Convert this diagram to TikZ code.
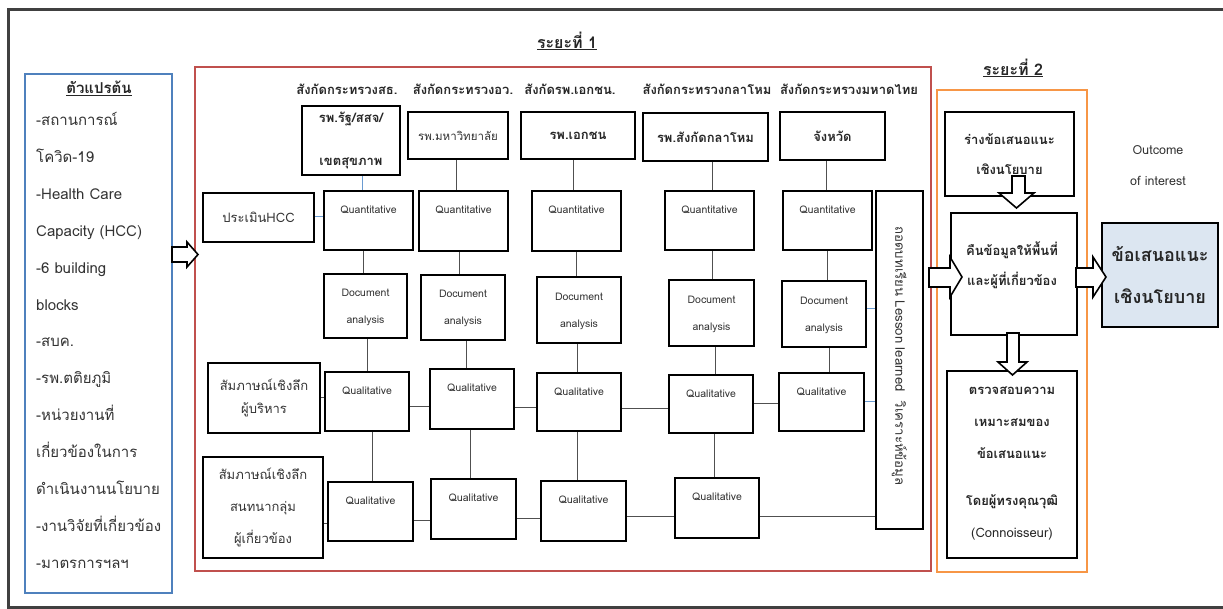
\documentclass[tikz,border=0pt]{standalone}
\usepackage{fontspec}
\setmainfont{Loma}[Script=Thai]
\usetikzlibrary{fit,backgrounds}
\definecolor{framec}{HTML}{404040}
\definecolor{bluefr}{HTML}{4F81BD}
\definecolor{redfr}{HTML}{C0504D}
\definecolor{orfr}{HTML}{F79646}
\definecolor{lnblue}{HTML}{6A9BD1}
\definecolor{lngray}{HTML}{505050}
\definecolor{outfill}{HTML}{DCE6F1}
\definecolor{txt}{HTML}{333333}
\begin{document}
\begin{tikzpicture}[x=1pt,y=-1pt,
  bx/.style={draw=black,line width=2.8pt,fill=white,inner sep=0pt},
  ln/.style={draw=lngray,line width=0.9pt},
  bl/.style={draw=lnblue,line width=1pt},
  lbl/.style={text=txt,inner sep=0pt,align=center,font=\fontsize{10.5}{27}\selectfont},
  thb/.style={text=black!85,inner sep=0pt,align=center,font=\fontsize{13}{30}\selectfont\bfseries},
  thr/.style={text=txt,inner sep=0pt,align=center,font=\fontsize{13}{23}\selectfont},
  hdr/.style={text=black!85,inner sep=0pt,font=\fontsize{13}{16}\selectfont\bfseries},
  lft/.style={text=txt,inner sep=0pt,anchor=west,text height=11pt,text depth=4pt,font=\fontsize{15}{18}\selectfont},
  harrow/.style={draw=black,line width=1.6pt,fill=white,line join=miter}]
\clip (0,0) rectangle (1223,608);

% ---------- titles ----------
\node[hdr,font=\fontsize{16}{18}\selectfont\bfseries] (ph1) at (567,41) {\underline{ระยะที่ 1}};
\node[hdr,font=\fontsize{16}{18}\selectfont\bfseries] (ph2) at (1013,68) {\underline{ระยะที่ 2}};
\node[hdr,font=\fontsize{15}{18}\selectfont\bfseries] (vt) at (99,88) {\underline{ตัวแปรต้น}};

% ---------- left column ----------
\foreach \t [count=\i from 0] in {-สถานการณ์,โควิด-19,-Health Care,Capacity (HCC),-6 building,blocks,-สบค.,-รพ.ตติยภูมิ,-หน่วยงานที่,เกี่ยวข้องในการ,ดำเนินงานนโยบาย,-งานวิจัยที่เกี่ยวข้อง,-มาตรการฯลฯ}
  \node[lft] (lv\i) at (36,{122+36.9*\i}) {\t};

% ---------- headers ----------
\node[hdr] (g1) at (347,89) {สังกัดกระทรวงสธ.};
\node[hdr] (g2) at (463,89) {สังกัดกระทรวงอว.};
\node[hdr] (g3) at (570,89) {สังกัดรพ.เอกชน.};
\node[hdr] (g4) at (707,89) {สังกัดกระทรวงกลาโหม};
\node[hdr] (g5) at (849,89) {สังกัดกระทรวงมหาดไทย};

% ---------- hospital row ----------
\node[bx,fit={(302,106)(400,175)}] (H1) {};
\node[bx,fit={(408,112)(508,159)}] (H2) {};
\node[bx,fit={(521,112)(635,159)}] (H3) {};
\node[bx,fit={(643,113)(768,161)}] (H4) {};
\node[bx,fit={(780,112)(885,160)}] (H5) {};
\node[thb,font=\fontsize{13}{43}\selectfont\bfseries] (tH1) at (H1.center) {รพ.รัฐ/สสจ/\\เขตสุขภาพ};
\node[thr,font=\fontsize{11.5}{14}\selectfont] (tH2) at (H2.center) {รพ.มหาวิทยาลัย};
\node[thb] (tH3) at (H3.center) {รพ.เอกชน};
\node[thb] (tH4) at (H4.center) {รพ.สังกัดกลาโหม};
\node[thb] (tH5) at (H5.center) {จังหวัด};

% ---------- quantitative row ----------
\node[bx,fit={(203,193)(314,242)}] (HCC) {};
\node[thr] (tHCC) at (HCC.center) {ประเมินHCC};
\node[bx,fit={(324,191)(413,250)}] (Q1) {};
\node[bx,fit={(419,191)(508,251)}] (Q2) {};
\node[bx,fit={(532,191)(621,251)}] (Q3) {};
\node[bx,fit={(665,191)(754,250)}] (Q4) {};
\node[bx,fit={(783,191)(872,250)}] (Q5) {};
\foreach \n in {Q1,Q2,Q3,Q4,Q5}
  \node[lbl] (t\n) at ([yshift=-20pt]\n.north) {Quantitative};

% ---------- document analysis row ----------
\node[bx,fit={(324,274)(407,338)}] (D1) {};
\node[bx,fit={(421,275)(505,340)}] (D2) {};
\node[bx,fit={(537,277)(621,343)}] (D3) {};
\node[bx,fit={(669,280)(754,346)}] (D4) {};
\node[bx,fit={(782,281)(866,347)}] (D5) {};
\foreach \n in {D1,D2,D3,D4,D5}
  \node[lbl] (t\n) at ([yshift=-1pt]\n.center) {Document\\analysis};

% ---------- qualitative rows ----------
\node[bx,fit={(208,363)(320,433)}] (S1) {};
\node[thr] (tS1) at (S1.center) {สัมภาษณ์เชิงลึก\\ผู้บริหาร};
\node[bx,fit={(325,372)(409,431)}] (QL1) {};
\node[bx,fit={(430,369)(514,429)}] (QL2) {};
\node[bx,fit={(537,373)(621,431)}] (QL3) {};
\node[bx,fit={(669,375)(753,433)}] (QL4) {};
\node[bx,fit={(779,373)(864,431)}] (QL5) {};
\node[bx,fit={(203,457)(323,558)}] (S2) {};
\node[thr,font=\fontsize{13}{32}\selectfont] (tS2) at (S2.center) {สัมภาษณ์เชิงลึก\\สนทนากลุ่ม\\ผู้เกี่ยวข้อง};
\node[bx,fit={(328,482)(413,541)}] (QM1) {};
\node[bx,fit={(431,479)(516,539)}] (QM2) {};
\node[bx,fit={(541,481)(626,541)}] (QM3) {};
\node[bx,fit={(675,478)(759,538)}] (QM4) {};
\foreach \n in {QL1,QL2,QL3,QL4,QL5,QM1,QM2,QM3,QM4}
  \node[lbl] (t\n) at ([yshift=-20pt]\n.north) {Qualitative};

% ---------- lesson learned box ----------
\node[bx,fit={(876,191)(923,529)}] (LL) {};
\node[thr,font=\fontsize{13.2}{16}\selectfont,rotate=-90] (tLL) at (899.5,356) {ถอดบทเรียน Lesson learned\ \ วิเคราะห์ข้อมูล};

% ---------- phase 2 ----------
\node[bx,fit={(945,112)(1074,196)}] (R1) {};
\node[thb] (tR1) at (R1.center) {ร่างข้อเสนอแนะ\\เชิงนโยบาย};
\node[bx,fit={(951,213)(1077,335)}] (R2) {};
\node[thb] (tR2) at (1012,265) {คืนข้อมูลให้พื้นที่\\และผู้ที่เกี่ยวข้อง};
\node[bx,fit={(947,371)(1077,558)}] (R3) {};
\node[thb,font=\fontsize{13}{32}\selectfont\bfseries] (tR3) at (1012,464) {ตรวจสอบความ\\เหมาะสมของ\\ข้อเสนอแนะ\\[15pt]โดยผู้ทรงคุณวุฒิ\\{\mdseries (Connoisseur)}};
\node[bx,fill=outfill,fit={(1102,223)(1218,327)}] (OUT) {};
\node[thb,font=\fontsize{18}{42}\selectfont\bfseries] (tOUT) at (OUT.center) {ข้อเสนอแนะ\\เชิงนโยบาย};
\node[thr,font=\fontsize{12.5}{31}\selectfont] (oc) at (1158,165.5) {Outcome\\of interest};

% ---------- hollow arrows ----------
\draw[harrow] (172,247)--(187,247)--(187,242)--(198,254.5)--(187,267)--(187,262)--(172,262)--cycle;
\draw[harrow] (929,268)--(950,268)--(950,257)--(962,277)--(950,297)--(950,287)--(929,287)--cycle;
\draw[harrow] (1076,268)--(1093,268)--(1093,257)--(1106,277)--(1093,297)--(1093,287)--(1076,287)--cycle;
\draw[harrow] (1012,176)--(1025,176)--(1025,193)--(1034,193)--(1016.5,208)--(999,193)--(1012,193)--cycle;
\draw[harrow] (1007,333)--(1019,333)--(1019,362)--(1027,362)--(1012.5,375)--(998,362)--(1007,362)--cycle;

\begin{pgfonlayer}{background}
  \fill[white] (0,0) rectangle (1223,608);
  % frames
  \draw[framec,line width=3pt] (8,9) rectangle (1240,607);
  \draw[bluefr,line width=2pt] (25,74) rectangle (172,593);
  \draw[redfr,line width=2.4pt] (195,67) rectangle (931,571);
  \draw[orfr,line width=2.4pt] (937,90) rectangle (1087,572);
  % hospital -> quantitative
  \draw[bl] ([xshift=11pt]H1.south) -- ([xshift=11pt]H1.south |- Q1.north);
  \draw[ln] ([xshift=-2pt]H2.south) -- ([xshift=-2pt]H2.south |- Q2.north);
  \draw[ln] ([xshift=-5pt]H3.south) -- ([xshift=-5pt]H3.south |- Q3.north);
  \draw[ln] ([xshift=6.5pt]H4.south) -- ([xshift=6.5pt]H4.south |- Q4.north);
  \draw[ln] ([xshift=-6.5pt]H5.south) -- ([xshift=-6.5pt]H5.south |- Q5.north);
  % quantitative -> document
  \draw[ln] ([xshift=-5.5pt]Q1.south) -- ([xshift=-5.5pt]Q1.south |- D1.north);
  \draw[ln] ([xshift=-4.5pt]Q2.south) -- ([xshift=-4.5pt]Q2.south |- D2.north);
  \draw[ln] (Q3.south) -- (Q3.south |- D3.north);
  \draw[ln] ([xshift=2.5pt]Q4.south) -- ([xshift=2.5pt]Q4.south |- D4.north);
  \draw[ln] (Q5.south) -- (Q5.south |- D5.north);
  % document -> qualitative
  \draw[ln] ([xshift=1.5pt]D1.south) -- ([xshift=1.5pt]D1.south |- QL1.north);
  \draw[ln] ([xshift=3pt]D2.south) -- ([xshift=3pt]D2.south |- QL2.north);
  \draw[ln] ([xshift=-1.5pt]D3.south) -- ([xshift=-1.5pt]D3.south |- QL3.north);
  \draw[ln] ([xshift=3.5pt]D4.south) -- ([xshift=3.5pt]D4.south |- QL4.north);
  \draw[ln] ([xshift=5pt]D5.south) -- ([xshift=5pt]D5.south |- QL5.north);
  % qualitative -> qualitative
  \draw[ln] ([xshift=5pt]QL1.south) -- ([xshift=5pt]QL1.south |- QM1.north);
  \draw[ln] ([xshift=-2pt]QL2.south) -- ([xshift=-2pt]QL2.south |- QM2.north);
  \draw[ln] ([xshift=-2pt]QL3.south) -- ([xshift=-2pt]QL3.south |- QM3.north);
  \draw[ln] ([xshift=3pt]QL4.south) -- ([xshift=3pt]QL4.south |- QM4.north);
  % horizontals
  \draw[bl] ([yshift=1.5pt]HCC.east) -- ([yshift=1.5pt]HCC.east -| Q1.west);
  \draw[ln] ([yshift=1pt]S1.east) -- ([yshift=1pt]S1.east -| QL1.west);
  \draw[ln] ([yshift=-4.5pt]QL1.east) -- ([yshift=-4.5pt]QL1.east -| QL2.west);
  \draw[ln] ([yshift=-8pt]QL2.east) -- ([yshift=-8pt]QL2.east -| QL3.west);
  \draw[ln] ([yshift=-6pt]QL3.east) -- ([yshift=-6pt]QL3.east -| QL4.west);
  \draw[ln] ([yshift=1pt]QL4.east) -- ([yshift=1pt]QL4.east -| QL5.west);
  \draw[bl] ([yshift=1pt]QL5.east) -- ([yshift=1pt]QL5.east -| LL.west);
  \draw[bl] ([yshift=6pt]D5.east) -- ([yshift=6pt]D5.east -| LL.west);
  \draw[ln] ([yshift=-15.5pt]S2.east) -- ([yshift=-15.5pt]S2.east -| QM1.west);
  \draw[ln] ([yshift=-8.5pt]QM1.east) -- ([yshift=-8.5pt]QM1.east -| QM2.west);
  \draw[ln] ([yshift=-9pt]QM2.east) -- ([yshift=-9pt]QM2.east -| QM3.west);
  \draw[ln] ([yshift=-5pt]QM3.east) -- ([yshift=-5pt]QM3.east -| QM4.west);
  \draw[ln] ([yshift=-8pt]QM4.east) -- ([yshift=-8pt]QM4.east -| LL.west);
\end{pgfonlayer}
\end{tikzpicture}
\end{document}
